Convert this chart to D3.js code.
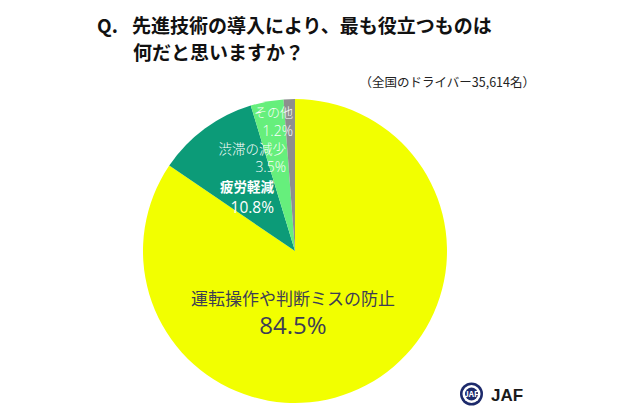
<!DOCTYPE html>
<html><head><meta charset="utf-8">
<script src="https://cdn.jsdelivr.net/npm/d3@7"></script>
<style>body{margin:0;background:#fff}svg{display:block}</style>
</head><body>
<script>
const categories = ["運転操作や判断ミスの防止", "疲労軽減", "渋滞の減少", "その他"];
const values = [84.5, 10.8, 3.5, 1.2];
const colors = ["#f2ff00", "#0c9b78", "#66ef7c", "#8e8e8e"];
const titleLines = ["Q.", "先進技術の導入により、最も役立つものは", "何だと思いますか？"];
const subtitle = "（全国のドライバー35,614名）";

const W = 630, H = 420;
const svg = d3.select("body").append("svg").attr("width", W).attr("height", H);
const font = "'Noto Sans CJK JP','Noto Sans',sans-serif";
const cx = 295, cy = 251, R = 152;

const data = categories.map((c, i) => ({cat: c, val: values[i], color: colors[i]}));
const pie = d3.pie().value(d => d.val).sort(null);
const arc = d3.arc().innerRadius(0).outerRadius(R);
const g = svg.append("g").attr("transform", `translate(${cx},${cy})`);
const arcs = pie(data);
g.selectAll("path").data(arcs).join("path").attr("d", arc).attr("fill", d => d.data.color);

// title
svg.append("text").attr("x", 97).attr("y", 33).attr("font-family", font).attr("font-weight", 700)
  .attr("font-size", 19).attr("fill", "#111").text(titleLines[0]);
svg.append("text").attr("x", 132).attr("y", 33).attr("font-family", font).attr("font-weight", 700)
  .attr("font-size", 19).attr("fill", "#111").text(titleLines[1]);
svg.append("text").attr("x", 133).attr("y", 60).attr("font-family", font).attr("font-weight", 700)
  .attr("font-size", 19).attr("fill", "#111").text(titleLines[2]);
svg.append("text").attr("x", 535).attr("y", 87).attr("text-anchor", "end").attr("font-family", font)
  .attr("font-size", 12.5).attr("fill", "#222").text(subtitle);

// labels
const fmt = v => d3.format(".1f")(v) + "%";
const labelSpec = [
  {x: cx - 2, y1: 305, y2: 334, s1: 17, s2: 24, fill: "#3d3d55", w1: 400, w2: 400, anchor: "middle"},
  {x: 274, y1: 192, y2: 213, s1: 13.5, s2: 15.5, fill: "#ffffff", w1: 700, w2: 400, anchor: "end"},
  {x: 286, y1: 154, y2: 172, s1: 13.5, s2: 14, fill: "#ffffff", w1: 300, w2: 300, anchor: "end"},
  {x: 293, y1: 117, y2: 136, s1: 13, s2: 14, fill: "#ffffff", w1: 300, w2: 300, anchor: "end"}
];
data.forEach((d, i) => {
  const L = labelSpec[i];
  svg.append("text").attr("x", L.x).attr("y", L.y1).attr("text-anchor", L.anchor)
    .attr("font-family", font).attr("font-size", L.s1).attr("font-weight", L.w1)
    .attr("fill", L.fill).text(d.cat);
  svg.append("text").attr("x", L.x).attr("y", L.y2).attr("text-anchor", L.anchor)
    .attr("font-family", "'Open Sans','Noto Sans',sans-serif").attr("font-size", L.s2).attr("font-weight", L.w2)
    .attr("fill", L.fill).text(fmt(d.val));
});

// JAF logo
const logo = svg.append("g").attr("transform", "translate(471.5,394)");
logo.append("circle").attr("r", 11.5).attr("fill", "#1d2a6b");
logo.append("circle").attr("r", 9).attr("fill", "#fff");
logo.append("circle").attr("r", 6.5).attr("fill", "#1d2a6b");
logo.append("text").attr("y", 3).attr("text-anchor", "middle").attr("font-family", font)
  .attr("font-size", 8).attr("font-weight", 700).attr("fill", "#fff").text("JAF");
svg.append("text").attr("x", 491).attr("y", 401).attr("font-family", "'Liberation Sans','DejaVu Sans',sans-serif")
  .attr("font-size", 17).attr("font-weight", 700).attr("fill", "#1a1a1a").text("JAF");
</script>
</body></html>
